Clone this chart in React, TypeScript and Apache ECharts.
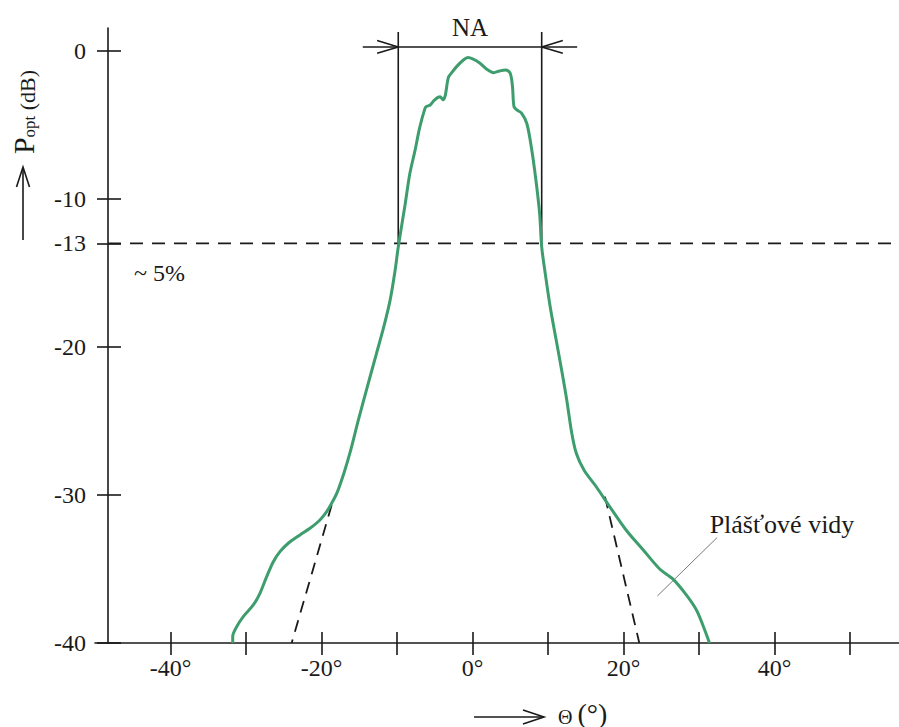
import React, { useEffect, useRef } from 'react';
import * as echarts from 'echarts';

// Angle (deg) and relative optical power (dB)
const THETA = [
  -31.76, -31.76, -31.23, -30.36, -29.03, -28.15, -27.26, -26.38, -25.5, -24.4, -22.85, -21.52, -20.2,
  -19.31, -18.65, -17.95, -17.02, -16.23,
  -15.11, -13.93, -12.7, -11.75, -10.9, -10.24, -9.83, -8.9, -8.3, -7.6, -7.0, -6.3, -6.1, -5.6, -5.0,
  -4.3, -3.9, -3.6, -3.2, -2.8, -2.1, -1.2, -0.6, 0.1, 1.0, 1.9, 2.8, 3.6, 4.4, 5.0, 5.3, 5.5, 5.9,
  6.5, 7.2, 7.8, 8.4, 8.9, 9.17, 9.63, 10.3, 11.09, 11.88, 12.49, 13.15, 13.74, 14.77, 16.42, 18.2, 20.4,
  22.6, 24.8, 26.6, 28.4, 29.7, 30.6, 31.4,
];
const POWER = [
  -40.0, -39.57, -38.9, -38.22, -37.43, -36.64, -35.52, -34.51, -33.83, -33.26, -32.7, -32.25, -31.69,
  -31.13, -30.56, -29.86, -28.51, -27.16,
  -24.93, -22.7, -20.41, -18.65, -16.82, -14.8, -13.24, -10.3, -8.3, -6.7, -5.2, -3.9, -3.76, -3.65, -3.3,
  -3.1, -3.3, -3.0, -1.8, -1.5, -1.06, -0.61, -0.45, -0.56, -0.83, -1.24, -1.47, -1.35, -1.28, -1.51,
  -2.4, -3.76, -3.99, -4.2, -4.9, -6.5, -8.7, -11.0, -13.24, -15.0, -17.3, -19.53, -21.76, -23.58, -25.81,
  -27.16, -28.31, -29.46, -30.8, -32.4, -33.7, -35.0, -35.7, -36.8, -37.8, -38.9, -40.0,
];

// Axis ticks and labels
const Y_TICKS = [0, -10, -13, -20, -30, -40];
const X_TICKS = [-40, -30, -20, -10, 0, 10, 20, 30, 40, 50];
const X_LABELS = [-40, -20, 0, 20, 40];

// Annotations (data coordinates)
const THRESHOLD_DB = -13;
const NA_LEFT = -9.83;
const NA_RIGHT = 9.17;
const NA_TOP = 1.28;
const NA_BAR = 0.27;
const ARROW_SHAFT = 4.7;
const HEAD_DX = 2.8;
const HEAD_DY = 0.43;
const TANGENT_LEFT = [[-18.65, -30.68], [-23.95, -40]];
const TANGENT_RIGHT = [[17.55, -30.11], [22.1, -40]];
const LEADER = [[32.4, -32.88], [24.5, -36.82]];

const X_MIN = -50;
const X_MAX = 56.5;
const Y_MIN = -40;
const Y_MAX = 1.55;
const Y_AXIS_AT = -48.28;

const FONT = '"Liberation Serif", "Times New Roman", serif';
const INK = '#1a1a1a';
const GREEN = '#3d9d6d';

const seg = (data: number[][], style: any) => ({
  type: 'line',
  data,
  showSymbol: false,
  symbol: 'none',
  silent: true,
  animation: false,
  lineStyle: style,
  z: 3,
});

export default function App() {
  const ref = useRef<HTMLDivElement>(null);
  useEffect(() => {
    document.body.style.margin = '0';
    const chart = echarts.init(ref.current!, null, { renderer: 'svg' });
    const axisLine = { color: INK, width: 1.6 };
    const curve = THETA.map((t, i) => [t, POWER[i]]);
    const option: any = {
      animation: false,
      backgroundColor: '#ffffff',
      grid: { left: 95, right: 0, top: 28, bottom: 84, containLabel: false },
      xAxis: [
        {
          type: 'value', min: X_MIN, max: X_MAX, position: 'bottom',
          axisLine: { show: true, onZero: false, lineStyle: axisLine },
          splitLine: { show: false },
          axisTick: { show: true, customValues: X_TICKS, length: 12, lineStyle: axisLine },
          axisLabel: {
            customValues: X_LABELS, formatter: '{value}°', fontSize: 24, fontFamily: FONT,
            color: INK, margin: 13,
          },
        },
        {
          type: 'value', min: X_MIN, max: X_MAX, position: 'bottom',
          axisLine: { show: false, onZero: false },
          splitLine: { show: false },
          axisTick: { show: true, customValues: X_TICKS, inside: true, length: 11, lineStyle: axisLine },
          axisLabel: { show: false },
        },
      ],
      yAxis: [
        {
          type: 'value', min: Y_MIN, max: Y_MAX, position: 'left', offset: -13,
          axisLine: { show: true, onZero: false, lineStyle: axisLine },
          splitLine: { show: false },
          axisTick: { show: true, customValues: Y_TICKS, length: 11, lineStyle: axisLine },
          axisLabel: {
            customValues: Y_TICKS, fontSize: 24, fontFamily: FONT, color: INK, margin: 22,
          },
        },
        {
          type: 'value', min: Y_MIN, max: Y_MAX, position: 'left', offset: -13,
          axisLine: { show: false, onZero: false },
          splitLine: { show: false },
          axisTick: { show: true, customValues: Y_TICKS, inside: true, length: 13, lineStyle: axisLine },
          axisLabel: { show: false },
        },
      ],
      series: [
        seg([[Y_AXIS_AT, THRESHOLD_DB], [X_MAX, THRESHOLD_DB]], { color: INK, width: 1.6, type: [13, 9] }),
        seg([[NA_LEFT, THRESHOLD_DB], [NA_LEFT, NA_TOP]], { color: INK, width: 1.6 }),
        seg([[NA_RIGHT, THRESHOLD_DB], [NA_RIGHT, NA_TOP]], { color: INK, width: 1.6 }),
        seg([[NA_LEFT - ARROW_SHAFT, NA_BAR], [NA_RIGHT + ARROW_SHAFT, NA_BAR]], { color: INK, width: 1.6 }),
        seg([[NA_LEFT - HEAD_DX, NA_BAR + HEAD_DY], [NA_LEFT, NA_BAR], [NA_LEFT - HEAD_DX, NA_BAR - HEAD_DY]], { color: INK, width: 1.6 }),
        seg([[NA_RIGHT + HEAD_DX, NA_BAR + HEAD_DY], [NA_RIGHT, NA_BAR], [NA_RIGHT + HEAD_DX, NA_BAR - HEAD_DY]], { color: INK, width: 1.6 }),
        seg(TANGENT_LEFT, { color: INK, width: 1.8, type: [12, 8] }),
        seg(TANGENT_RIGHT, { color: INK, width: 1.8, type: [12, 8] }),
        seg(LEADER, { color: '#7a7a7a', width: 1 }),
        {
          type: 'line', data: curve, showSymbol: false, symbol: 'none', smooth: 0.3,
          lineStyle: { color: GREEN, width: 3 }, z: 5, silent: true,
        },
      ],
      graphic: [
        {
          type: 'text', x: 470, y: 27,
          style: { text: 'NA', fontSize: 25, fontFamily: FONT, fill: INK, align: 'center', verticalAlign: 'middle' },
        },
        {
          type: 'text', x: 134, y: 273,
          style: { text: '~ 5%', fontSize: 24, fontFamily: FONT, fill: INK, align: 'left', verticalAlign: 'middle' },
        },
        {
          type: 'text', x: 782, y: 524,
          style: { text: 'Plášťové vidy', fontSize: 26, fontFamily: FONT, fill: INK, align: 'center', verticalAlign: 'middle' },
        },
        { type: 'line', shape: { x1: 23, y1: 240, x2: 23, y2: 168 }, style: { stroke: INK, lineWidth: 1.6 } },
        { type: 'polyline', shape: { points: [[16.5, 187], [23, 167], [29.5, 187]] }, style: { stroke: INK, lineWidth: 1.6, fill: 'none' } },
        {
          type: 'text', x: 23, y: 112, rotation: Math.PI / 2,
          style: {
            text: '{p|P}{s|opt}{d| (dB)}', align: 'center', verticalAlign: 'middle', fill: INK,
            rich: {
              p: { fontSize: 30, fontFamily: FONT, fill: INK, lineHeight: 30, verticalAlign: 'bottom' },
              s: { fontSize: 17, fontFamily: FONT, fill: INK, lineHeight: 17, verticalAlign: 'bottom' },
              d: { fontSize: 22, fontFamily: FONT, fill: INK, lineHeight: 22, verticalAlign: 'bottom' },
            },
          },
        },
        { type: 'line', shape: { x1: 474, y1: 717, x2: 544, y2: 717 }, style: { stroke: INK, lineWidth: 1.6 } },
        { type: 'polyline', shape: { points: [[523, 710], [544, 717], [523, 724]] }, style: { stroke: INK, lineWidth: 1.6, fill: 'none' } },
        {
          type: 'text', x: 558, y: 713,
          style: {
            text: '{t|Θ }{p|(°)}', align: 'left', verticalAlign: 'middle', fill: INK,
            rich: {
              t: { fontSize: 20, fontFamily: FONT, fill: INK, lineHeight: 20, verticalAlign: 'bottom' },
              p: { fontSize: 28, fontFamily: FONT, fill: INK, lineHeight: 28, verticalAlign: 'bottom' },
            },
          },
        },
      ],
    };
    chart.setOption(option);
    return () => chart.dispose();
  }, []);
  return <div ref={ref} style={{ width: 899, height: 727 }} />;
}
